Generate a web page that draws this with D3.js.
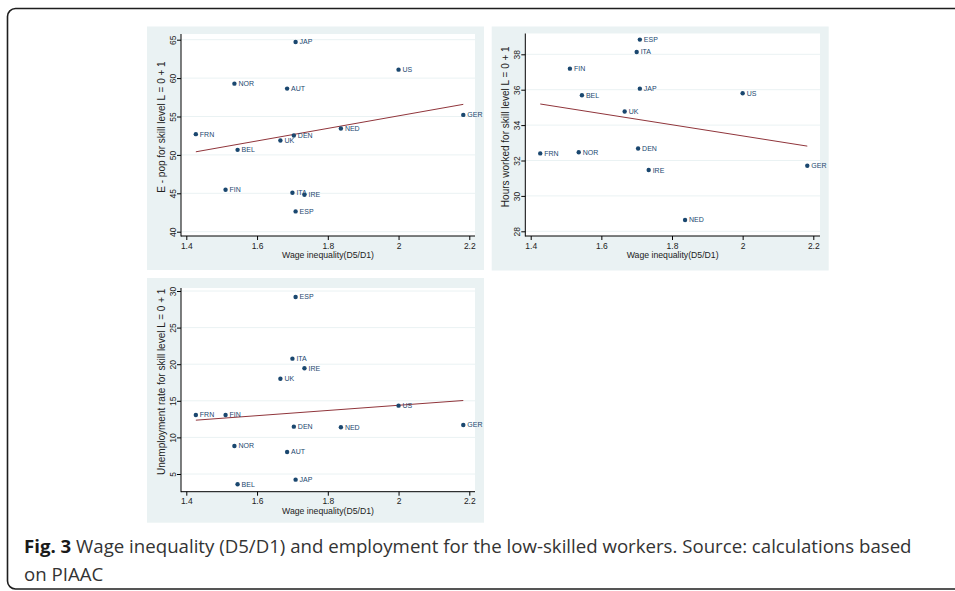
<!DOCTYPE html>
<html><head><meta charset="utf-8">
<script src="https://cdn.jsdelivr.net/npm/d3@7"></script>
<style>
html,body{margin:0;padding:0;background:#fff;}
svg{display:block;}
</style></head>
<body>
<svg id="chart" width="955" height="591"></svg>
<script>
// ---------------- DATA ----------------
const countries  = ["JAP","US","NOR","AUT","GER","FRN","NED","DEN","UK","BEL","FIN","ITA","IRE","ESP"];
const wageIneq   = [1.709, 2.000, 1.536, 1.685, 2.183, 1.427, 1.837, 1.704, 1.666, 1.545, 1.511, 1.700, 1.734, 1.709];
const empPop     = [64.70, 61.10, 59.28, 58.63, 55.21, 52.70, 53.43, 52.52, 51.87, 50.66, 45.46, 45.07, 44.81, 42.64];
const hoursWork  = [36.06, 35.80, 32.47, null, 31.70, 32.40, 28.64, 32.68, 34.77, 35.69, 37.19, 38.13, 31.46, 38.83];
const unempRate  = [4.23, 14.34, 8.83, 8.00, 11.69, 13.06, 11.38, 11.47, 18.02, 3.59, 13.06, 20.76, 19.44, 29.18];

const xTicks     = [1.4, 1.6, 1.8, 2, 2.2];
const yTicksEmp  = [40, 45, 50, 55, 60, 65];
const yTicksHrs  = [28, 30, 32, 34, 36, 38];
const yTicksUnem = [5, 10, 15, 20, 25, 30];

const xTitle = "Wage inequality(D5/D1)";
const yTitleEmp  = "E - pop for skill level L = 0 + 1";
const yTitleHrs  = "Hours worked for skill level L = 0 + 1";
const yTitleUnem = "Unemployment rate for skill level L = 0 + 1";

const captionBold = "Fig. 3";
const captionLine1 = " Wage inequality (D5/D1) and employment for the low-skilled workers. Source: calculations based";
const captionLine2 = "on PIAAC";

// ---------------- STYLE / LAYOUT ----------------
const BG = "#eaf2f3", NAVY = "#1a476f", MAROON = "#90353b";
const FONT = "'Liberation Sans', Arial, Helvetica, sans-serif";

const svg = d3.select("#chart");

// outer frame
svg.append("rect")
  .attr("x", 7.5).attr("y", 8.5).attr("width", 1100).attr("height", 580.5)
  .attr("rx", 8).attr("ry", 8)
  .attr("fill", "none").attr("stroke", "#1e1e1e").attr("stroke-width", 1.6);

const panels = [
  { bg:[147, 26.5, 337, 243.5], plot:{l:181, t:34, r:475, b:236},
    xr:[186.3, 469.3], yr:[231.7, 39.7], yd:[40, 65], ticks:yTicksEmp, y:empPop, title:yTitleEmp },
  { bg:[491.7, 26.5, 337, 244], plot:{l:525.3, t:33.5, r:820, b:236},
    xr:[530.7, 813.3], yr:[231.3, 54.3], yd:[28, 38], ticks:yTicksHrs, y:hoursWork, title:yTitleHrs },
  { bg:[147, 278, 337, 244.7], plot:{l:181, t:288, r:475, b:491.7},
    xr:[186.3, 469.3], yr:[474, 291], yd:[5, 30], ticks:yTicksUnem, y:unempRate, title:yTitleUnem }
];

function ols(xs, ys) {
  const n = xs.length;
  const mx = d3.mean(xs), my = d3.mean(ys);
  let sxy = 0, sxx = 0;
  for (let i = 0; i < n; i++) { sxy += (xs[i]-mx)*(ys[i]-my); sxx += (xs[i]-mx)**2; }
  const b = sxy / sxx;
  return { b, a: my - b*mx };
}

panels.forEach(p => {
  const g = svg.append("g");
  const [bx, by, bw, bh] = p.bg;
  const P = p.plot;
  g.append("rect").attr("x", bx).attr("y", by).attr("width", bw).attr("height", bh).attr("fill", BG);
  g.append("rect").attr("x", P.l).attr("y", P.t).attr("width", P.r - P.l).attr("height", P.b - P.t).attr("fill", "#fff");

  const x = d3.scaleLinear().domain([1.4, 2.2]).range(p.xr);
  const y = d3.scaleLinear().domain(p.yd).range(p.yr);

  // gridlines
  g.selectAll("line.grid").data(p.ticks).join("line").attr("class","grid")
    .attr("x1", P.l).attr("x2", P.r).attr("y1", d => y(d)).attr("y2", d => y(d))
    .attr("stroke", BG).attr("stroke-width", 1);

  // axes
  const ya = g.append("g").attr("transform", `translate(${P.l},0)`)
    .call(d3.axisLeft(y).tickValues(p.ticks).tickSize(4).tickSizeOuter(0).tickFormat(d3.format("d")));
  ya.select(".domain").remove();
  ya.selectAll("line").attr("stroke", "#000");
  ya.selectAll("text").attr("transform", "rotate(-90)").attr("x", 0).attr("y", -5.5).attr("dy", 0)
    .attr("text-anchor", "middle").attr("font-family", FONT).attr("font-size", 8.5).attr("fill", "#222");

  const xa = g.append("g").attr("transform", `translate(0,${P.b})`)
    .call(d3.axisBottom(x).tickValues(xTicks).tickSize(4).tickSizeOuter(0).tickFormat(d => String(d)));
  xa.select(".domain").remove();
  xa.selectAll("line").attr("stroke", "#000");
  xa.selectAll("text").attr("y", 6.5).attr("dy", "0.71em")
    .attr("font-family", FONT).attr("font-size", 8.5).attr("fill", "#222");

  g.append("line").attr("x1", P.l).attr("x2", P.l).attr("y1", P.t).attr("y2", P.b + 0.5).attr("stroke", "#000").attr("stroke-width", 1);
  g.append("line").attr("x1", P.l).attr("x2", P.r).attr("y1", P.b).attr("y2", P.b).attr("stroke", "#000").attr("stroke-width", 1);

  // axis titles
  g.append("text").attr("x", (P.l + P.r)/2).attr("y", P.b + 22)
    .attr("text-anchor", "middle").attr("font-family", FONT).attr("font-size", 8.7).attr("fill", "#222")
    .text(xTitle);
  g.append("text")
    .attr("transform", `translate(${bx + 17.5},${(P.t + P.b)/2 - 8}) rotate(-90)`)
    .attr("text-anchor", "middle").attr("font-family", FONT).attr("font-size", 10).attr("fill", "#222")
    .text(p.title);

  // data
  const pts = countries.map((c, i) => ({ c, x: wageIneq[i], y: p.y[i] })).filter(d => d.y != null);

  // fit line
  const f = ols(pts.map(d => d.x), pts.map(d => d.y));
  const xmin = d3.min(pts, d => d.x), xmax = d3.max(pts, d => d.x);
  g.append("line")
    .attr("x1", x(xmin)).attr("y1", y(f.a + f.b*xmin))
    .attr("x2", x(xmax)).attr("y2", y(f.a + f.b*xmax))
    .attr("stroke", MAROON).attr("stroke-width", 1);

  g.selectAll("circle.pt").data(pts).join("circle").attr("class","pt")
    .attr("cx", d => x(d.x)).attr("cy", d => y(d.y)).attr("r", 2.2).attr("fill", NAVY);
  g.selectAll("text.lab").data(pts).join("text").attr("class","lab")
    .attr("x", d => x(d.x) + 4).attr("y", d => y(d.y)).attr("dy", "0.35em")
    .attr("font-family", FONT).attr("font-size", 7).attr("fill", NAVY)
    .text(d => d.c);
});

// caption
const cap = svg.append("text").attr("x", 24).attr("y", 552.5)
  .attr("font-family", "'Open Sans', sans-serif").attr("font-size", 18).attr("fill", "#333");
cap.append("tspan").attr("font-weight", "bold").attr("fill", "#1a1a1a").text(captionBold);
cap.append("tspan").text(captionLine1);
const len = cap.node().getComputedTextLength();
const fs = 18 * 888 / len;
cap.attr("font-size", fs);
svg.append("text").attr("x", 24).attr("y", 580.5)
  .attr("font-family", "'Open Sans', sans-serif").attr("font-size", fs).attr("fill", "#333")
  .text(captionLine2);
</script>
</body></html>
